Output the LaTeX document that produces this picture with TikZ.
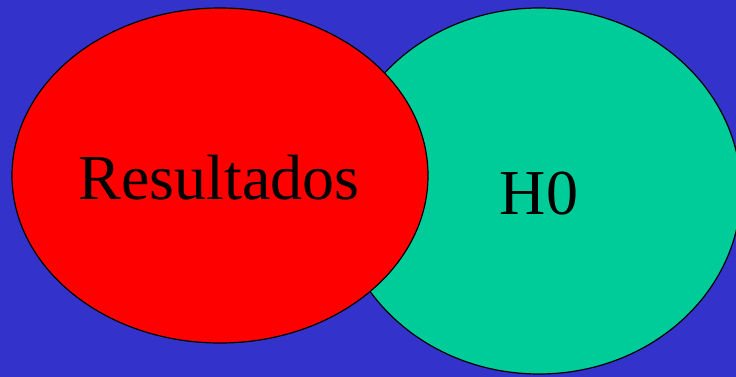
\documentclass[tikz,border=0pt]{standalone}
\usepackage{fontspec}
\setmainfont{Liberation Serif}
\usetikzlibrary{shapes.geometric}
\definecolor{bgblue}{HTML}{3333CC}
\definecolor{redfill}{HTML}{FF0000}
\definecolor{greenfill}{HTML}{00CC99}
\tikzset{
  blob/.style={ellipse, draw=black, line width=1.2pt, inner sep=0pt},
  label/.style={font=\fontsize{64}{64}\selectfont, anchor=base, inner sep=0pt}
}
\begin{document}
\begin{tikzpicture}[x=1pt,y=-1pt]
\fill[bgblue] (0,0) rectangle (736,377);
\useasboundingbox (0,0) rectangle (736,377);
\node[blob, fill=greenfill, minimum width=404pt, minimum height=366pt] (h0e) at (539,191) {};
\node[blob, fill=redfill, minimum width=416pt, minimum height=335pt] (rese) at (220,175.5) {};
\node[label] (res) at (219,199) {Resultados};
\node[label] (h0) at (539,214) {H0};
\end{tikzpicture}
\end{document}
